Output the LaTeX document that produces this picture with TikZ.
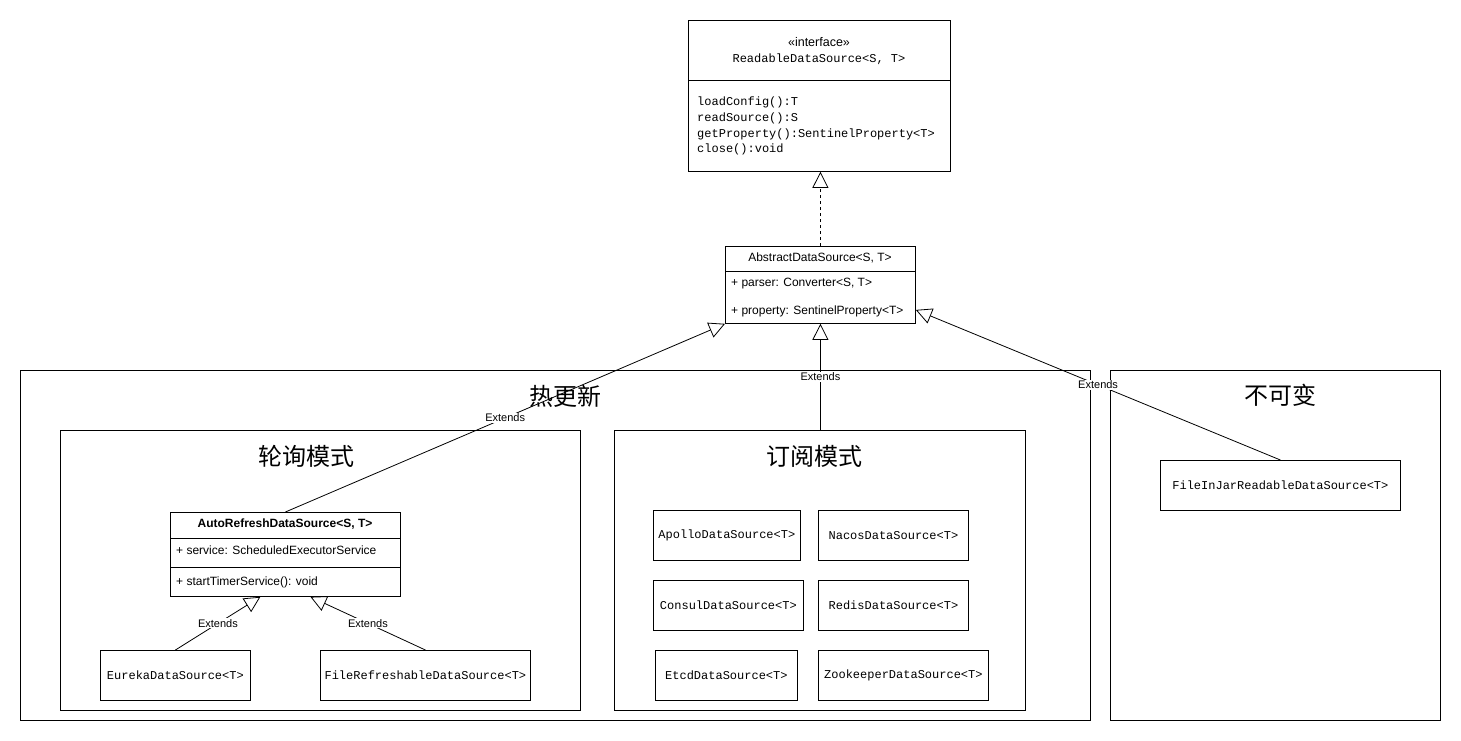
\documentclass[tikz,border=0pt]{standalone}
\usepackage{fontspec}
\setmainfont{Liberation Sans}
\newfontfamily\monof{Liberation Mono}
\newfontfamily\cjk{Noto Sans CJK SC}
\usetikzlibrary{arrows.meta}
\tikzset{
  box/.style={draw, line width=0.8pt, inner sep=0pt, anchor=north west, font=\monof\fontsize{12}{14}\selectfont},
  grp/.style={draw, line width=0.8pt, inner sep=0pt, anchor=north west},
  ext/.style={-{Triangle[open,length=16pt,width=16pt]}, line width=0.8pt},
  impl/.style={-{Triangle[open,length=16pt,width=16pt]}, line width=0.8pt, dash pattern=on 3pt off 3pt},
  lbl/.style={font=\fontsize{11}{13}\selectfont, fill=white, inner sep=1pt},
  ttl/.style={font=\cjk\fontsize{24}{28}\selectfont},
  sans/.style={font=\fontsize{12}{14}\selectfont, inner sep=0pt},
  mono/.style={font=\monof\fontsize{12}{14}\selectfont, inner sep=0pt},
  divider/.style={line width=0.8pt}
}
\begin{document}
\begin{tikzpicture}[x=1pt,y=-1pt]
\useasboundingbox[fill=white] (0,0) rectangle (1461,741);

% groups
\node[grp, minimum width=1070pt, minimum height=350pt] (hot) at (20,370) {};
\node[ttl] (hotT) at (565,396) {热更新};
\node[grp, minimum width=520pt, minimum height=280pt] (poll) at (60,430) {};
\node[ttl] (pollT) at (306,456) {轮询模式};
\node[grp, minimum width=411pt, minimum height=280pt] (sub) at (614,430) {};
\node[ttl] (subT) at (814,456) {订阅模式};
\node[grp, minimum width=330pt, minimum height=350pt] (imm) at (1110,370) {};
\node[ttl] (immT) at (1280,395) {不可变};

% interface
\node[grp, minimum width=262pt, minimum height=151pt] (iface) at (688,20) {};
\draw[divider] (688,80) -- (950,80);
\node[sans, font=\fontsize{12.5}{14}\selectfont] (istereo) at (819,42) {«interface»};
\node[mono] (iname) at (819,59) {ReadableDataSource<S, T>};
\node[mono, anchor=north west, align=left, font=\monof\fontsize{12}{15.6}\selectfont] (imeth) at (697,97) {loadConfig():T\\readSource():S\\getProperty():SentinelProperty<T>\\close():void};

% abstract
\node[grp, minimum width=190pt, minimum height=77pt] (abs) at (725,246) {};
\draw[divider] (725,271) -- (915,271);
\node[sans] (absN) at (820,258) {AbstractDataSource<S, T>};
\node[sans, anchor=west] (absA) at (731,284) {+ parser: Converter<S, T>};
\node[sans, anchor=west] (absB) at (731,311) {+ property: SentinelProperty<T>};

% auto refresh
\node[grp, minimum width=230pt, minimum height=84pt] (auto) at (170,512) {};
\draw[divider] (170,538) -- (400,538);
\draw[divider] (170,567) -- (400,567);
\node[sans, font=\bfseries\fontsize{12}{14}\selectfont] (autoN) at (285,524) {AutoRefreshDataSource<S, T>};
\node[sans, anchor=west] (autoA) at (176,550) {+ service: ScheduledExecutorService};
\node[sans, anchor=west] (autoB) at (176,582) {+ startTimerService(): void};

% leaf classes
\node[box, minimum width=150pt, minimum height=50pt] (eureka) at (100,650) {EurekaDataSource<T>};
\node[box, minimum width=210pt, minimum height=50pt] (filer) at (320,650) {FileRefreshableDataSource<T>};
\node[box, minimum width=147pt, minimum height=50pt] (apollo) at (653,510) {ApolloDataSource<T>};
\node[box, minimum width=150pt, minimum height=50pt] (nacos) at (818,510) {NacosDataSource<T>};
\node[box, minimum width=150pt, minimum height=50pt] (consul) at (653,580) {ConsulDataSource<T>};
\node[box, minimum width=150pt, minimum height=50pt] (redis) at (818,580) {RedisDataSource<T>};
\node[box, minimum width=142pt, minimum height=50pt] (etcd) at (655,650) {EtcdDataSource<T>};
\node[box, minimum width=170pt, minimum height=50pt] (zk) at (818,650) {ZookeeperDataSource<T>};
\node[box, minimum width=240pt, minimum height=50pt] (jar) at (1160,460) {FileInJarReadableDataSource<T>};

% connectors
\draw[impl] (abs.north) -- (abs.north |- iface.south);
\draw[ext] (auto.north) -- node[lbl, pos=0.5] {Extends} (abs.south west);
\draw[ext] (sub.north -| abs.south) -- node[lbl, pos=0.5] {Extends} (abs.south);
\draw[ext] (jar.north) -- node[lbl, pos=0.5] {Extends} ([yshift=-25pt]abs.east);
\draw[ext] (eureka.north) -- node[lbl, pos=0.5] {Extends} ([xshift=-25pt]auto.south);
\draw[ext] (filer.north) -- node[lbl, pos=0.5] {Extends} ([xshift=25pt]auto.south);
\end{tikzpicture}
\end{document}
